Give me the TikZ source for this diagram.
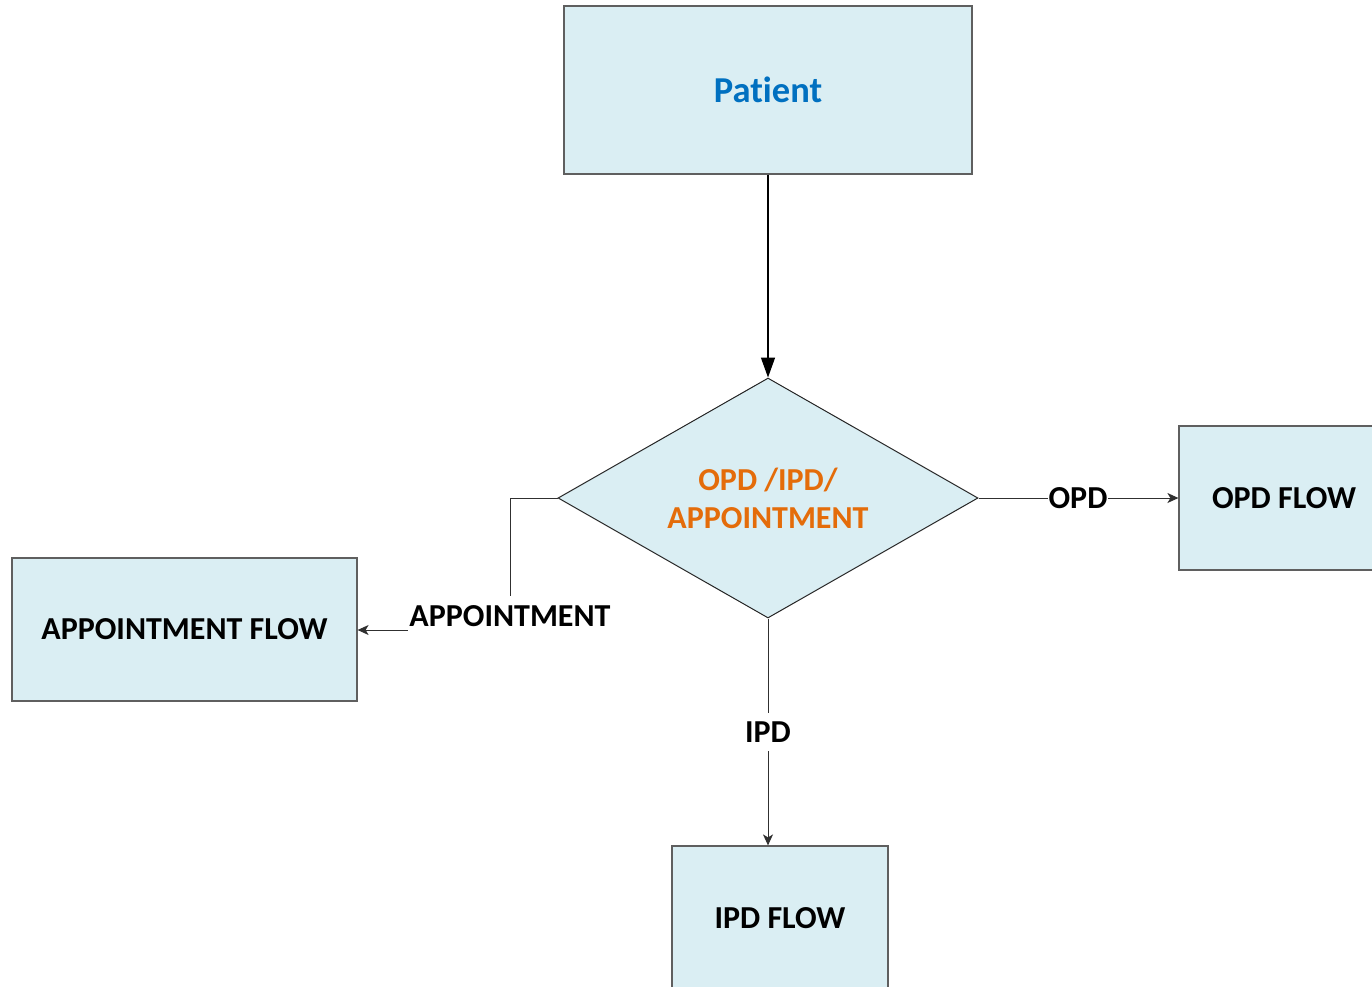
\documentclass[tikz,border=0pt]{standalone}
\usepackage{fontspec}
\setmainfont{Carlito}[Ligatures={NoCommon,NoRare,NoDiscretionary},Contextuals={NoAlternate}]
\usetikzlibrary{shapes.geometric,arrows.meta}
\definecolor{boxfill}{HTML}{DAEEF3}
\definecolor{boxline}{HTML}{5F5F5F}
\definecolor{patblue}{HTML}{0070C0}
\definecolor{decorange}{HTML}{E46C0A}
\definecolor{conn}{HTML}{303030}
\tikzset{
  flowbox/.style={draw=boxline, line width=1.2pt, fill=boxfill, rectangle, inner sep=0pt,
    font=\fontsize{32}{38}\selectfont\bfseries},
  decision/.style={draw=black!85, line width=1pt, fill=boxfill, diamond, aspect=1.75,
    minimum width=420pt, minimum height=240pt, inner sep=0pt, align=center,
    text=decorange, font=\fontsize{32}{38}\selectfont\bfseries},
  connector/.style={draw=conn, line width=1pt, -{Stealth[length=11pt,width=10pt,inset=3pt]}},
  mainconn/.style={draw=black, line width=1.5pt, -{Triangle[length=20pt,width=14pt]}},
  edgelabel/.style={fill=white, inner xsep=1pt, inner ysep=9pt,
    font=\fontsize{32}{38}\selectfont\bfseries},
}
\begin{document}
\begin{tikzpicture}[x=1pt,y=-1pt]
\useasboundingbox (0,0) rectangle (1372,986);
\node[flowbox, minimum width=408pt, minimum height=168pt, text=patblue,
  font=\fontsize{36.5}{40}\selectfont\bfseries] (patient) at (768,90) {Pat\kern0pt ient};
\node[decision] (dia) at (768,498) {OPD /IPD/\\APPOINTMENT};
\node[flowbox, minimum width=210pt, minimum height=144pt] (opd) at (1284,498) {OPD FLOW};
\node[flowbox, minimum width=345pt, minimum height=143pt] (app) at (184.5,629.5) {APPOINTMENT FLOW};
\node[flowbox, minimum width=216pt, minimum height=144pt] (ipd) at (780,918) {IPD FLOW};
\coordinate (c1) at (510,498);
\coordinate (c2) at (510,630);
\draw[mainconn] (patient.south) -- (dia.north);
\draw[connector] (dia.east) -- (opd.west);
\draw[connector] (dia.south) -- (dia.south |- ipd.north);
\draw[connector] (dia.west) -- (c1) -- (c2) -- (c2 -| app.east);
\node[edgelabel] (lopd) at (1078,498) {OPD};
\node[edgelabel] (lipd) at (768,732) {IPD};
\node[edgelabel] (lapp) at (510,616) {APPOINTMENT};
\end{tikzpicture}
\end{document}
